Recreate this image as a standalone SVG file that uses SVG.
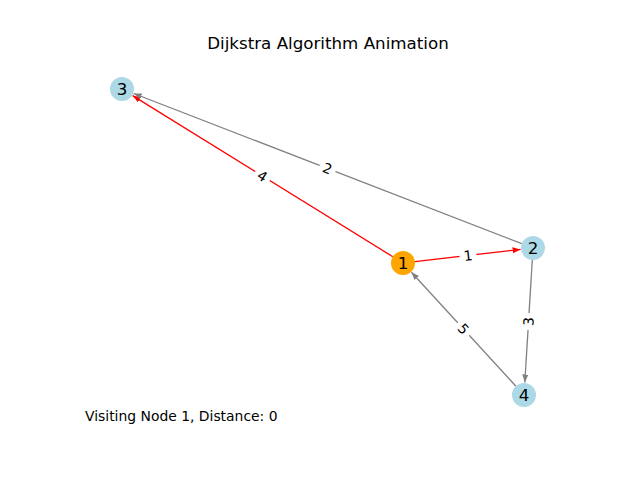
<svg xmlns="http://www.w3.org/2000/svg" width="640" height="480" viewBox="0 0 640 480">
<style>
text{font-family:"DejaVu Sans",sans-serif;fill:#000}
.title{font-size:16.7px;text-anchor:middle}
.nl{font-size:16.7px;text-anchor:middle;dominant-baseline:central}
.el{font-size:13.9px;text-anchor:middle;dominant-baseline:central}
.red{stroke:#ff0000;stroke-width:1.3;fill:none}
.gray{stroke:#808080;stroke-width:1.3;fill:none}
.lb{fill:#fff}
</style>
<defs>
<marker id="ar" markerUnits="userSpaceOnUse" markerWidth="10" markerHeight="8" refX="8" refY="3.5" orient="auto"><path d="M0,0.5 L8,3.5 L0,6.5 z" fill="#ff0000"/></marker>
<marker id="ag" markerUnits="userSpaceOnUse" markerWidth="10" markerHeight="8" refX="8" refY="3.5" orient="auto"><path d="M0,0.5 L8,3.5 L0,6.5 z" fill="#808080"/></marker>
</defs>
<rect width="640" height="480" fill="#fff"/>
<text class="title" x="328" y="49">Dijkstra Algorithm Animation</text>
<g id="edges">
<line class="red" x1="414.9" y1="261.6" x2="520.6" y2="249.4" marker-end="url(#ar)"/>
<line class="red" x1="392.8" y1="256.7" x2="132.6" y2="95.6" marker-end="url(#ar)"/>
<line class="gray" x1="521.8" y1="243.7" x2="133.7" y2="93.5" marker-end="url(#ag)"/>
<line class="gray" x1="532.3" y1="260" x2="524.8" y2="382.5" marker-end="url(#ag)"/>
<line class="gray" x1="515.9" y1="386.2" x2="411.4" y2="272.2" marker-end="url(#ag)"/>
<g transform="translate(468,255.5) rotate(-6.6)"><rect class="lb" x="-8.5" y="-9" width="17" height="18" rx="3"/><text class="el" x="0" y="0">1</text></g>
<g transform="translate(262.5,176) rotate(31.8)"><rect class="lb" x="-8.5" y="-9" width="17" height="18" rx="3"/><text class="el" x="0" y="0">4</text></g>
<g transform="translate(327.5,168.5) rotate(21.1)"><rect class="lb" x="-8.5" y="-9" width="17" height="18" rx="3"/><text class="el" x="0" y="0">2</text></g>
<g transform="translate(528.5,321.5) rotate(-86.5)"><rect class="lb" x="-8.5" y="-9" width="17" height="18" rx="3"/><text class="el" x="0" y="0">3</text></g>
<g transform="translate(463.5,329) rotate(47.5)"><rect class="lb" x="-8.5" y="-9" width="17" height="18" rx="3"/><text class="el" x="0" y="0">5</text></g>
</g>
<g id="node1"><circle cx="403" cy="263" r="12" fill="#ffa500"/><text class="nl" x="403" y="263">1</text></g>
<g id="node2"><circle cx="533" cy="248" r="12" fill="#add8e6"/><text class="nl" x="533" y="248">2</text></g>
<g id="node3"><circle cx="122" cy="89" r="12" fill="#add8e6"/><text class="nl" x="122" y="89">3</text></g>
<g id="node4"><circle cx="524" cy="395" r="12" fill="#add8e6"/><text class="nl" x="524" y="395">4</text></g>
<text x="85" y="421" style="font-size:13.9px">Visiting Node 1, Distance: 0</text>
</svg>
